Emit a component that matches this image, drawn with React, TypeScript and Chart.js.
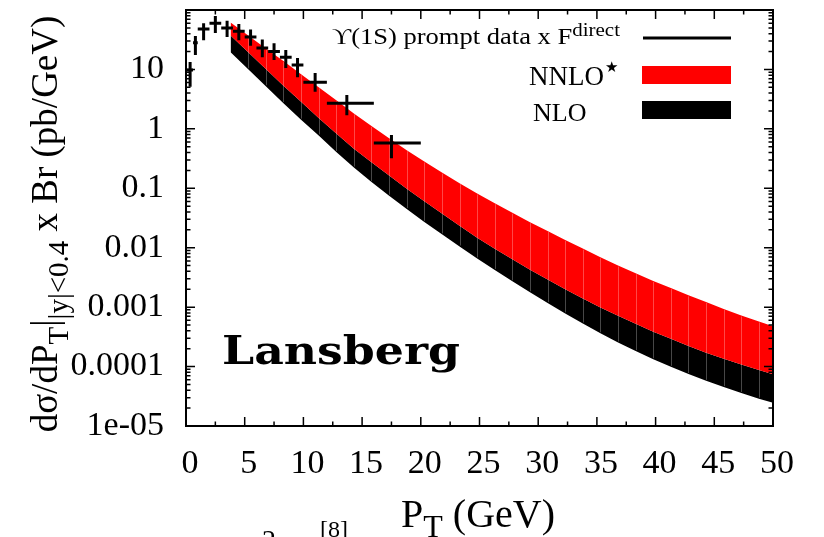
import React, { useEffect, useRef } from 'react';
import { Chart, registerables } from 'chart.js';

Chart.register(...registerables);

// ---- band data (theory) ----
const bandPt = [3.8, 5.3, 6.8, 8.3, 9.8, 11.3, 12.8, 14.3, 15.8, 17.3, 18.8, 20.3, 21.8, 23.3, 24.8, 26.3, 27.8, 29.3, 30.8, 32.3, 33.8, 35.3, 36.8, 38.3, 39.8, 41.3, 42.8, 44.3, 45.8, 47.3, 48.8, 50];
const nnloHigh = [61.7, 37.2, 22.4, 13.8, 8.32, 5.01, 3.02, 1.82, 1.12, 0.692, 0.437, 0.282, 0.184, 0.122, 0.0818, 0.0562, 0.0389, 0.0269, 0.0191, 0.0135, 0.00966, 0.00692, 0.00501, 0.00372, 0.00275, 0.00209, 0.00158, 0.00122, 0.000933, 0.000724, 0.000575, 0.000479];
const nloHigh = [37.2, 19.5, 10.2, 5.31, 2.86, 1.53, 0.832, 0.462, 0.275, 0.164, 0.0986, 0.0603, 0.0376, 0.0234, 0.0147, 0.00964, 0.00638, 0.00427, 0.00291, 0.002, 0.0014, 0.000982, 0.000714, 0.000525, 0.000385, 0.000295, 0.000222, 0.000171, 0.000135, 0.000108, 0.0000875, 0.0000741];
const nloLow = [19.5, 10.07, 5.22, 2.71, 1.43, 0.776, 0.407, 0.224, 0.127, 0.075, 0.0447, 0.0272, 0.0168, 0.01047, 0.00661, 0.00422, 0.00272, 0.00178, 0.00117, 0.000785, 0.000531, 0.000363, 0.000254, 0.000182, 0.000133, 0.0000989, 0.000075, 0.0000575, 0.0000452, 0.0000359, 0.0000288, 0.0000245];

// ---- measured data points ----
const dataPt = [0.35, 0.8, 1.5, 2.5, 3.5, 4.5, 5.5, 6.5, 7.5, 8.5, 9.5, 11, 13.7, 17.5];
const dataPtLo = [0.05, 0.6, 1, 2, 3, 4, 5, 6, 7, 8, 9, 10, 12, 16];
const dataPtHi = [0.6, 1, 2, 3, 4, 5, 6, 7, 8, 9, 10, 12, 16, 20];
const dataVal = [9.8, 28, 48, 60, 50, 44, 35, 23, 20, 16, 11.9, 6.1, 2.7, 0.58];
const dataLo = [5.1, 17.5, 31, 41, 35, 31, 25, 16, 14.4, 10.6, 7.4, 4.2, 1.7, 0.32];
const dataHi = [13.3, 36.5, 60, 79, 66, 58, 47, 32, 27.5, 21.2, 15.6, 8.7, 3.7, 0.79];

// ---- axes ----
const yMajorTicks = [1e-5, 1e-4, 1e-3, 1e-2, 0.1, 1, 10, 100];
const yMajorLabels = ['1e-05', '0.0001', '0.001', '0.01', '0.1', '1', '10', ''];
const yMinorSteps = [2, 3, 4, 5, 6, 7, 8, 9];
const xMin = 0;
const xMax = 50;
const xLabelStep = 5;
const xTickStep = 2.5;

const legendLabels = ['ϒ(1S) prompt data x F', 'direct', 'NNLO', '★', 'NLO'];
const yTitle = ['dσ/dP', 'T', '|', '|y|<0.4', ' x Br (pb/GeV)'];
const xTitle = ['P', 'T', ' (GeV)'];
const watermark = 'Lansberg';

const SERIF = '"Liberation Serif", "DejaVu Serif", serif';

type Seg = { t: string; font: string; dy?: number };

function richWidth(ctx: CanvasRenderingContext2D, segs: Seg[]) {
  let w = 0;
  for (const s of segs) {
    ctx.font = s.font;
    w += ctx.measureText(s.t).width;
  }
  return w;
}

function drawRich(ctx: CanvasRenderingContext2D, segs: Seg[], x: number, y: number, align: 'left' | 'center', sx = 1) {
  const w = richWidth(ctx, segs);
  ctx.save();
  ctx.translate(x, y);
  ctx.scale(sx, 1);
  ctx.textBaseline = 'alphabetic';
  ctx.textAlign = 'left';
  let cx = align === 'center' ? -w / 2 : 0;
  for (const s of segs) {
    ctx.font = s.font;
    ctx.fillText(s.t, cx, s.dy || 0);
    cx += ctx.measureText(s.t).width;
  }
  ctx.restore();
  return w;
}

const isMajorY = (v: number) => yMajorTicks.some((m) => Math.abs(m - v) / m < 1e-6);

const decorPlugin = {
  id: 'decor',
  afterDatasetsDraw(chart: any) {
    const ctx: CanvasRenderingContext2D = chart.ctx;
    const xs = chart.scales.x;
    const ys = chart.scales.y;
    // seams between band segments
    ctx.save();
    ctx.strokeStyle = 'rgba(255,255,255,0.28)';
    ctx.lineWidth = 1;
    for (let i = 1; i < bandPt.length - 1; i++) {
      const px = Math.round(xs.getPixelForValue(bandPt[i])) + 0.5;
      ctx.beginPath();
      ctx.moveTo(px, ys.getPixelForValue(nnloHigh[i]) + 1);
      ctx.lineTo(px, ys.getPixelForValue(nloLow[i]) - 1);
      ctx.stroke();
    }
    ctx.restore();
    // data error bars
    ctx.save();
    ctx.strokeStyle = '#000';
    ctx.lineWidth = 3;
    ctx.lineCap = 'butt';
    for (let i = 0; i < dataPt.length; i++) {
      const px = xs.getPixelForValue(dataPt[i]);
      const py = ys.getPixelForValue(dataVal[i]);
      ctx.beginPath();
      ctx.moveTo(px, ys.getPixelForValue(dataHi[i]));
      ctx.lineTo(px, ys.getPixelForValue(dataLo[i]));
      ctx.moveTo(xs.getPixelForValue(dataPtLo[i]), py);
      ctx.lineTo(xs.getPixelForValue(dataPtHi[i]), py);
      ctx.stroke();
    }
    ctx.restore();
  },
  afterDraw(chart: any) {
    const ctx: CanvasRenderingContext2D = chart.ctx;
    const a = chart.chartArea;
    const xs = chart.scales.x;
    const ys = chart.scales.y;
    ctx.save();
    ctx.strokeStyle = '#000';
    ctx.fillStyle = '#000';
    // tick marks (inward, mirrored)
    ctx.lineWidth = 1.5;
    ctx.beginPath();
    for (const t of xs.ticks) {
      const px = xs.getPixelForValue(t.value);
      const len = Math.abs(t.value % xLabelStep) < 1e-9 ? 9 : 4.5;
      ctx.moveTo(px, a.bottom);
      ctx.lineTo(px, a.bottom - len);
      ctx.moveTo(px, a.top);
      ctx.lineTo(px, a.top + len);
    }
    for (const t of ys.ticks) {
      const py = ys.getPixelForValue(t.value);
      const len = isMajorY(t.value) ? 9 : 4.5;
      ctx.moveTo(a.left, py);
      ctx.lineTo(a.left + len, py);
      ctx.moveTo(a.right, py);
      ctx.lineTo(a.right - len, py);
    }
    ctx.stroke();
    // frame
    ctx.lineWidth = 2;
    ctx.strokeRect(a.left, a.top, a.right - a.left, a.bottom - a.top);

    // legend
    const l1: Seg[] = [
      { t: legendLabels[0], font: `24px ${SERIF}` },
      { t: legendLabels[1], font: `19px ${SERIF}`, dy: -8 },
    ];
    const w1 = richWidth(ctx, l1);
    drawRich(ctx, l1, 332, 44, 'left', 288 / w1);
    ctx.lineWidth = 3;
    ctx.beginPath();
    ctx.moveTo(643, 38);
    ctx.lineTo(731, 38);
    ctx.stroke();

    ctx.font = `27px ${SERIF}`;
    ctx.textAlign = 'left';
    ctx.textBaseline = 'alphabetic';
    ctx.fillText(legendLabels[2], 529, 85);
    ctx.font = '15px "DejaVu Sans", sans-serif';
    ctx.fillText(legendLabels[3], 605, 72);
    ctx.fillStyle = '#ff0000';
    ctx.fillRect(642, 66, 89, 18);

    ctx.fillStyle = '#000';
    ctx.font = `26px ${SERIF}`;
    ctx.fillText(legendLabels[4], 533, 121);
    ctx.fillRect(642, 101, 89, 18);

    // watermark
    ctx.font = 'bold 39px "DejaVu Serif", serif';
    const ww = ctx.measureText(watermark).width;
    ctx.save();
    ctx.translate(222, 364);
    ctx.scale(238 / ww, 1);
    ctx.fillText(watermark, 0, 0);
    ctx.restore();

    // y title
    ctx.save();
    ctx.translate(57, 224);
    ctx.rotate(-Math.PI / 2);
    const yt: Seg[] = [
      { t: yTitle[0], font: `37px ${SERIF}` },
      { t: yTitle[1], font: `29px ${SERIF}`, dy: 11 },
      { t: yTitle[2], font: `37px ${SERIF}` },
      { t: yTitle[3], font: `29px ${SERIF}`, dy: 11 },
      { t: yTitle[4], font: `37px ${SERIF}` },
    ];
    drawRich(ctx, yt, 0, 0, 'center');
    ctx.restore();

    // x title
    const xt: Seg[] = [
      { t: xTitle[0], font: `40px ${SERIF}` },
      { t: xTitle[1], font: `32px ${SERIF}`, dy: 10 },
      { t: xTitle[2], font: `40px ${SERIF}` },
    ];
    drawRich(ctx, xt, 478, 527, 'center');

    // cut-off caption fragments at the bottom edge
    ctx.font = `28px ${SERIF}`;
    ctx.fillText('2', 262, 549);
    ctx.font = `24px ${SERIF}`;
    ctx.fillText('[8]', 320, 537);
    ctx.restore();
  },
};

export default function App() {
  const ref = useRef<HTMLCanvasElement>(null);
  useEffect(() => {
    const canvas = ref.current;
    if (!canvas) return;
    Chart.defaults.font.family = SERIF;
    const toXY = (ys: number[]) => bandPt.map((x, i) => ({ x, y: ys[i] }));
    const chart = new Chart(canvas, {
      type: 'line',
      data: {
        datasets: [
          {
            label: 'NNLO*',
            data: toXY(nnloHigh),
            fill: '+1',
            backgroundColor: '#ff0000',
            borderColor: 'rgba(0,0,0,0)',
            borderWidth: 0,
            pointRadius: 0,
            tension: 0,
          },
          {
            label: 'NLO',
            data: toXY(nloHigh),
            fill: '+1',
            backgroundColor: '#000000',
            borderColor: 'rgba(0,0,0,0)',
            borderWidth: 0,
            pointRadius: 0,
            tension: 0,
          },
          {
            label: 'NLO low',
            data: toXY(nloLow),
            fill: false,
            borderColor: 'rgba(0,0,0,0)',
            borderWidth: 0,
            pointRadius: 0,
            tension: 0,
          },
        ],
      },
      options: {
        responsive: false,
        animation: false,
        events: [],
        layout: { padding: { top: 10, right: 51, left: 0, bottom: 0 } },
        plugins: { legend: { display: false }, tooltip: { enabled: false } },
        scales: {
          x: {
            type: 'linear',
            min: xMin,
            max: xMax,
            grid: { display: false, drawTicks: false },
            border: { display: false },
            ticks: {
              stepSize: xTickStep,
              autoSkip: false,
              maxRotation: 0,
              padding: 18,
              labelOffset: 4,
              color: '#000',
              font: { size: 34, family: SERIF },
              callback: (v: any) => (Math.abs(Number(v) % xLabelStep) < 1e-9 ? String(v) : ''),
            },
            afterFit: (s: any) => {
              s.height = 111;
              s.paddingLeft = 0;
              s.paddingRight = 0;
            },
          },
          y: {
            type: 'logarithmic',
            min: 1e-5,
            max: 100,
            grid: { display: false, drawTicks: false },
            border: { display: false },
            afterBuildTicks: (s: any) => {
              const ticks: any[] = [];
              yMajorTicks.forEach((v, i) => {
                ticks.push({ value: v });
                if (i < yMajorTicks.length - 1) yMinorSteps.forEach((m) => ticks.push({ value: v * m }));
              });
              s.ticks = ticks;
            },
            ticks: {
              autoSkip: false,
              padding: 22,
              color: '#000',
              font: { size: 34, family: SERIF },
              callback: (v: any) => {
                const i = yMajorTicks.findIndex((m) => Math.abs(m - Number(v)) / m < 1e-6);
                return i >= 0 ? yMajorLabels[i] : '';
              },
            },
            afterFit: (s: any) => {
              s.width = 186;
              s.paddingTop = 0;
              s.paddingBottom = 0;
            },
          },
        },
      },
      plugins: [decorPlugin],
    } as any);
    return () => chart.destroy();
  }, []);
  return (
    <div style={{ position: 'absolute', left: 0, top: 0, width: 824, height: 537, background: '#fff' }}>
      <canvas ref={ref} width={824} height={537} style={{ display: 'block', width: 824, height: 537 }} />
    </div>
  );
}
